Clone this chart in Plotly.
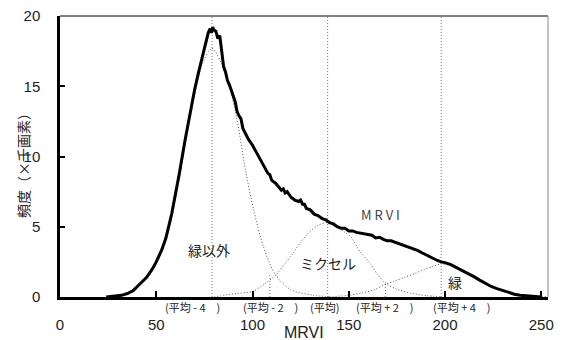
import plotly.graph_objects as go

# ---- data ----
mrvi_x = [24, 28, 32, 35, 38, 42, 45, 48, 50, 53, 55, 58, 60, 62, 65, 68, 70, 72, 74, 76, 77, 78, 78.7, 79.3,
          80, 81, 82, 83, 84, 85, 86, 87, 88, 89, 90, 91, 92, 93, 94, 95, 96, 97, 98, 100, 102, 104, 106, 107,
          108, 109, 110, 112, 114, 115, 116, 117, 118, 120, 122, 124, 125, 126, 127, 128, 130, 132, 134, 136,
          138, 140, 142, 144, 146, 148, 150, 152, 154, 156, 158, 160, 162, 164, 166, 168, 170, 172, 174, 176,
          178, 180, 182, 184, 186, 188, 190, 192, 194, 196, 198, 200, 203, 206, 209, 212, 215, 218, 221, 224,
          227, 230, 233, 236, 239, 242, 245, 248, 250]
mrvi_y = [0, 0.04, 0.12, 0.25, 0.45, 1.0, 1.4, 2.0, 2.5, 3.4, 4.2, 5.9, 7.3, 8.8, 11.2, 13.4, 14.8, 16.0, 17.2,
          18.3, 18.8, 19.1, 18.8, 19.2, 19.0, 18.9, 18.4, 18.6, 17.6, 16.4, 16.0, 15.4, 15.1, 14.6, 14.3, 13.9,
          13.2, 12.9, 12.7, 12.0, 11.7, 11.5, 11.2, 10.8, 10.3, 9.8, 9.3, 9.0, 8.8, 8.7, 8.3, 8.1, 7.8, 7.6,
          7.7, 7.4, 7.5, 7.1, 6.9, 6.8, 6.9, 6.6, 6.6, 6.3, 6.2, 5.9, 5.8, 5.6, 5.5, 5.3, 5.2, 5.0, 4.9, 4.9,
          4.7, 4.7, 4.6, 4.55, 4.5, 4.4, 4.4, 4.2, 4.25, 4.1, 4.0, 4.0, 3.9, 3.8, 3.75, 3.6, 3.5, 3.4, 3.3,
          3.15, 3.0, 2.9, 2.75, 2.6, 2.5, 2.45, 2.3, 2.1, 1.9, 1.65, 1.45, 1.2, 0.95, 0.75, 0.6, 0.45, 0.3,
          0.2, 0.12, 0.08, 0.05, 0.02, 0.0]

nongreen_x = [35, 40, 45, 50, 55, 60, 65, 70, 74, 79, 84, 88, 92, 96.4, 100.6, 105.7, 112, 120, 131, 140]
nongreen_y = [0.2, 0.65, 1.3, 2.35, 4.0, 7.0, 10.8, 14.4, 16.6, 17.7, 16.6, 15.0, 12.6, 9.0, 6.2, 3.56, 1.56,
              0.5, 0.14, 0.02]

mixel_x = [80, 86, 92, 100, 106, 112, 117, 121, 125, 129, 134, 139, 144, 148, 151, 156, 161, 165, 169, 175,
           182, 190, 198]
mixel_y = [0.0, 0.14, 0.25, 0.4, 0.9, 1.56, 2.4, 3.1, 3.9, 4.55, 5.1, 5.3, 5.0, 4.6, 4.3, 3.2, 2.4, 1.6, 1.0,
           0.55, 0.28, 0.1, 0.02]

green_x = [140, 151, 157, 163, 169, 174, 179, 184, 189, 194, 198, 203, 208, 213, 218, 223, 228, 233, 238, 245,
           253]
green_y = [0.0, 0.14, 0.3, 0.5, 0.9, 1.15, 1.4, 1.65, 1.95, 2.2, 2.35, 2.25, 1.95, 1.55, 1.15, 0.8, 0.5, 0.3,
           0.17, 0.07, 0.02]

ref_lines_x = [79, 139, 198]          # 平均-4, 平均, 平均+4
split_x = [109, 169]                  # 平均-2, 平均+2
split_y = [1.6, 1.0]

bottom_labels = ["(平均 - 4　)", "(平均 - 2　)", "(平均)", "(平均 + 2　)", "(平均 + 4　)"]
bottom_label_x = [68.8, 109.4, 137.3, 169.0, 208.8]

x_ticks = [0, 50, 100, 150, 200, 250]
y_ticks = [0, 5, 10, 15, 20]

# ---- figure ----
LAT = "Liberation Sans, Arial, sans-serif"
CJK = "Noto Sans CJK JP, sans-serif"
dotted = dict(color="#555555", width=1, dash="1px,2px")

fig = go.Figure()
for xs, ys in [(nongreen_x, nongreen_y), (mixel_x, mixel_y), (green_x, green_y)]:
    fig.add_trace(go.Scatter(x=xs, y=ys, mode="lines", line=dict(shape="spline", smoothing=0.8, **dotted),
                             hoverinfo="skip", showlegend=False))
fig.add_trace(go.Scatter(x=mrvi_x, y=mrvi_y, mode="lines", line=dict(color="black", width=3),
                         showlegend=False))

shapes = []
for xv in ref_lines_x:
    shapes.append(dict(type="line", xref="x", yref="y", x0=xv, x1=xv, y0=0, y1=20,
                       line=dict(color="#777777", width=1, dash="1px,2px"), layer="below"))
for xv, yv in zip(split_x, split_y):
    shapes.append(dict(type="line", xref="x", yref="y", x0=xv, x1=xv, y0=0, y1=yv,
                       line=dict(color="#777777", width=1, dash="1px,2px"), layer="below"))
# top and right frame
shapes.append(dict(type="line", xref="paper", yref="paper", x0=0, x1=1, y0=1, y1=1,
                   line=dict(color="black", width=1)))
shapes.append(dict(type="line", xref="paper", yref="paper", x0=1, x1=1, y0=0, y1=1,
                   line=dict(color="#888888", width=1)))

annotations = []
for txt, xv in zip(bottom_labels, bottom_label_x):
    annotations.append(dict(text=txt, x=xv, xref="x", y=-0.037, yref="paper", showarrow=False,
                            xanchor="center", yanchor="middle", font=dict(family=CJK, size=11, color="#222")))
annotations += [
    dict(text="緑以外", x=77.5, y=3.35, xref="x", yref="y", showarrow=False,
         font=dict(family=CJK, size=14, color="#222")),
    dict(text="ミクセル", x=139.4, y=2.42, xref="x", yref="y", showarrow=False,
         font=dict(family=CJK, size=14, color="#222")),
    dict(text="M R V I", x=166.4, y=5.84, xref="x", yref="y", showarrow=False,
         font=dict(family=CJK, size=13, color="#444")),
    dict(text="緑", x=205.4, y=1.07, xref="x", yref="y", showarrow=False,
         font=dict(family=CJK, size=14, color="#222")),
    dict(text="MRVI", x=0.5, y=-0.128, xref="paper", yref="paper", showarrow=False,
         xanchor="center", yanchor="middle", font=dict(family=LAT, size=16, color="#222")),
    dict(text="頻度（×千画素）", x=-0.076, y=0.48, xref="paper", yref="paper", showarrow=False,
         textangle=-90, xanchor="center", yanchor="middle", font=dict(family=CJK, size=14, color="#222")),
]

fig.update_layout(
    width=563, height=340,
    margin=dict(l=60, r=15, t=16, b=43, autoexpand=False),
    plot_bgcolor="white", paper_bgcolor="white",
    shapes=shapes, annotations=annotations,
    xaxis=dict(range=[0, 253.5], tickvals=x_ticks, ticks="inside", ticklen=6, tickwidth=2,
               tickcolor="black", showline=True, linewidth=3, linecolor="black", showgrid=False,
               zeroline=False, tickfont=dict(family=LAT, size=15, color="#222"), ticklabelstandoff=12,
               automargin=False),
    yaxis=dict(range=[0, 20], tickvals=y_ticks, ticks="inside", ticklen=5, tickwidth=2,
               tickcolor="black", showline=True, linewidth=2.5, linecolor="black", showgrid=False,
               zeroline=False, tickfont=dict(family=LAT, size=15, color="#222"), ticklabelstandoff=14,
               automargin=False),
)

fig.write_html("out.html", config={"displayModeBar": False},
               post_script="document.body.style.margin='0';document.body.style.padding='0';"
                           "document.body.style.overflow='hidden';")
